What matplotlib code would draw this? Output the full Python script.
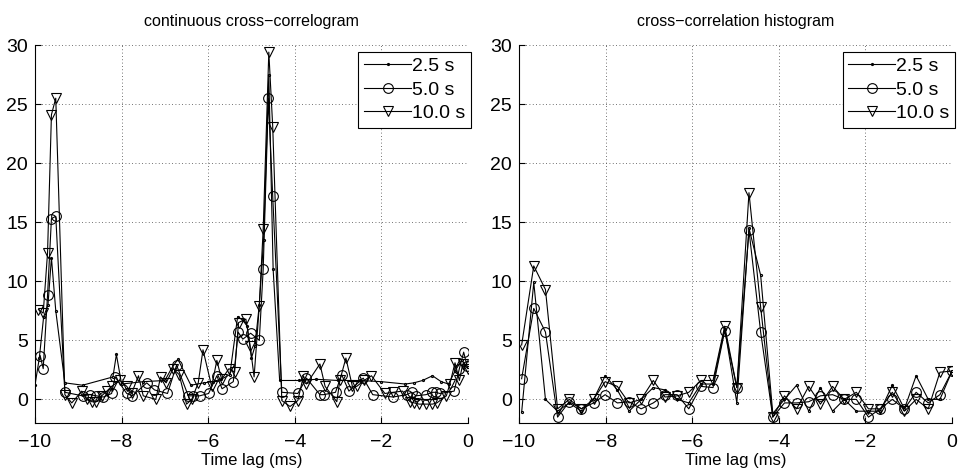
import matplotlib
matplotlib.use("Agg")
import matplotlib.pyplot as plt

plt.rcParams['font.family'] = ['Liberation Sans', 'DejaVu Sans']

# continuous cross-correlogram (left panel), irregular lags
LAG_C_25 = [-10.0, -9.9, -9.8, -9.7, -9.62, -9.52, -9.31, -8.9, -8.2, -8.12, -8.0, -7.5, -7.0, -6.85,
            -6.7, -6.4, -6.1, -5.9, -5.7, -5.5, -5.32, -5.2, -5.1, -5.0, -4.92, -4.82, -4.72, -4.6,
            -4.5, -4.35, -3.9, -3.5, -3.0, -2.5, -2.0, -1.45, -1.25, -1.05, -0.82, -0.62, -0.45,
            -0.3, -0.15, 0.0]
VAL_C_25 = [1.2, 3.5, 7.0, 8.0, 12.0, 7.5, 1.4, 1.2, 1.9, 3.8, 1.3, 1.5, 1.6, 2.6,
            3.4, 1.2, 1.4, 1.5, 1.7, 2.1, 7.0, 6.7, 6.2, 3.5, 4.5, 8.0, 13.5, 27.5,
            11.0, 1.6, 1.6, 1.7, 1.6, 1.6, 1.5, 1.3, 1.4, 1.6, 2.0, 1.5, 1.3,
            2.4, 3.3, 2.7]

LAG_C_50 = [-9.88, -9.81, -9.71, -9.62, -9.52, -9.31, -8.9, -8.73, -8.58, -8.42, -8.23, -8.15, -7.88,
            -7.75, -7.42, -7.24, -6.94, -6.73, -6.46, -6.36, -6.2, -5.99, -5.8, -5.68, -5.42, -5.31,
            -5.2, -5.02, -4.82, -4.73, -4.61, -4.51, -4.3, -3.93, -3.73, -3.42, -3.33, -3.06, -2.92,
            -2.75, -2.42, -2.2, -1.73, -1.42, -1.3, -1.2, -0.97, -0.82, -0.75, -0.65, -0.32, -0.2,
            -0.1, -0.02]
VAL_C_50 = [3.7, 2.6, 8.8, 15.3, 15.5, 0.6, 0.3, 0.4, 0.3, 0.2, 0.5, 1.9, 0.5,
            0.3, 1.4, 0.8, 0.5, 2.9, 0.3, 0.3, 0.3, 0.5, 2.0, 0.9, 1.5, 5.7,
            5.1, 5.6, 5.0, 11.0, 25.5, 17.2, 0.6, 0.5, 1.8, 0.4, 0.4, 0.6, 2.1,
            0.7, 1.8, 0.4, 0.2, 0.4, 0.6, 0.3, 0.4, 0.6, 0.6, 0.5, 0.7, 2.6,
            4.0, 2.8]

LAG_C_100 = [-9.92, -9.81, -9.71, -9.62, -9.52, -9.31, -9.15, -8.92, -8.81, -8.69, -8.58, -8.46, -8.34,
             -8.23, -8.04, -7.88, -7.77, -7.61, -7.5, -7.21, -7.1, -6.97, -6.81, -6.67, -6.5, -6.38,
             -6.23, -6.12, -5.92, -5.8, -5.69, -5.52, -5.39, -5.3, -5.13, -5.03, -4.94, -4.82, -4.73,
             -4.6, -4.51, -4.3, -4.11, -3.93, -3.8, -3.73, -3.42, -3.3, -3.03, -2.96, -2.82, -2.67,
             -2.57, -2.4, -2.23, -1.92, -1.73, -1.51, -1.34, -1.24, -1.13, -0.97, -0.82, -0.72, -0.5,
             -0.42, -0.3, -0.2, -0.12, 0.0]
VAL_C_100 = [7.6, 7.3, 12.4, 24.1, 25.5, 0.4, -0.3, 0.7, 0.0, -0.2, -0.2, 0.3, 0.7,
             1.1, 1.6, 1.1, 0.5, 2.0, 0.3, 0.0, 1.9, 1.4, 2.6, 2.1, -0.4, 0.0,
             1.4, 4.2, 1.1, 3.3, 1.7, 2.6, 2.3, 6.5, 6.8, 4.5, 1.9, 7.9, 14.4,
             29.4, 23.1, -0.1, -0.6, -0.1, 2.0, 1.3, 3.0, 1.1, -0.2, 1.6, 3.5, 1.1,
             1.1, 1.6, 2.0, 0.5, 0.6, 0.7, -0.2, -0.3, -0.4, -0.4, -0.4, -0.3, 0.3,
             1.3, 3.1, 1.6, 3.0, 2.6]

# cross-correlation histogram (right panel), bin centres
LAG_H = [-9.94, -9.66, -9.39, -9.11, -8.84, -8.56, -8.28, -8.01, -7.73, -7.46, -7.18, -6.90,
         -6.63, -6.35, -6.08, -5.80, -5.52, -5.25, -4.97, -4.69, -4.42, -4.14, -3.87, -3.59,
         -3.31, -3.04, -2.76, -2.49, -2.21, -1.93, -1.66, -1.38, -1.10, -0.83, -0.55, -0.28, 0.0]
VAL_H_25 = [-1.1, 9.9, 0.0, -1.0, -0.3, -1.0, 0.0, 2.0, 0.8, -1.0, 0.0, 1.0,
            0.8, 0.0, -0.3, 1.3, 1.3, 6.0, -0.3, 14.5, 10.5, -1.2, 0.0, 1.2,
            -1.0, 1.0, -1.0, 0.0, -1.0, -1.0, -1.0, 1.2, -0.8, 2.0, 0.0, 0.0, 2.4]
VAL_H_50 = [1.75, 7.7, 5.7, -1.5, -0.2, -0.8, -0.3, 0.4, -0.3, -0.2, -0.8, -0.3,
            0.4, 0.4, -0.8, 1.1, 1.0, 5.8, 1.0, 14.3, 5.7, -1.5, -0.3, -0.3,
            -0.2, 0.3, 0.4, 0.0, 0.0, -1.5, -0.8, 0.0, -0.8, 0.6, -0.3, 0.4, 2.4]
VAL_H_100 = [4.6, 11.3, 9.3, -0.8, 0.0, -0.8, 0.0, 1.5, 1.1, -0.3, 0.0, 1.6,
             0.2, 0.3, 0.6, 1.6, 1.6, 6.2, 1.0, 17.5, 7.8, -1.5, 0.3, -0.8,
             1.1, -0.4, 1.1, 0.0, 0.6, -0.8, -0.8, 0.6, -1.0, 0.0, -0.8, 2.3, 2.4]

LABELS = ["2.5 s", "5.0 s", "10.0 s"]


def draw_panel(ax, series, title):
    styles = [dict(marker='.', ms=3), dict(marker='o', ms=7), dict(marker='v', ms=7.5)]
    for (xs, ys), st, lab in zip(series, styles, LABELS):
        ax.plot(xs, ys, color='black', lw=0.8, mfc='none', mec='black', mew=0.8, label=lab, **st)
    ax.set_xlim(-10, 0)
    ax.set_ylim(-2, 30)
    ax.set_xticks([-10, -8, -6, -4, -2, 0])
    ax.set_yticks([0, 5, 10, 15, 20, 25, 30])
    ax.grid(True, color='#444444', linestyle=(0, (1, 3)), linewidth=0.6)
    ax.spines['top'].set_visible(False)
    ax.spines['right'].set_visible(False)
    ax.spines['left'].set_linewidth(0.8)
    ax.spines['bottom'].set_linewidth(0.8)
    ax.tick_params(direction='in', length=4, labelsize=14, width=0.8, pad=5)
    ax.tick_params(axis='x', pad=8)
    ax.set_title(title, fontsize=11.5, pad=14)
    ax.set_xlabel("Time lag (ms)", fontsize=12, labelpad=1)
    leg = ax.legend(loc='upper right', bbox_to_anchor=(1.007, 0.982), fontsize=14,
                    fancybox=False, framealpha=1, edgecolor='black', handlelength=2.4,
                    handletextpad=0.05, borderpad=0.3, labelspacing=0.3, borderaxespad=0)
    leg.get_frame().set_linewidth(0.8)


def main():
    fig = plt.figure(figsize=(9.61, 4.72), dpi=100)
    ax1 = fig.add_axes([0.0364, 0.1038, 0.4506, 0.8008])
    ax2 = fig.add_axes([0.5401, 0.1038, 0.4506, 0.8008])

    draw_panel(ax1, [(LAG_C_25, VAL_C_25), (LAG_C_50, VAL_C_50), (LAG_C_100, VAL_C_100)],
               "continuous cross\u2212correlogram")
    draw_panel(ax2, [(LAG_H, VAL_H_25), (LAG_H, VAL_H_50), (LAG_H, VAL_H_100)],
               "cross\u2212correlation histogram")

    fig.savefig("out.png", dpi=100)


if __name__ == "__main__":
    main()
